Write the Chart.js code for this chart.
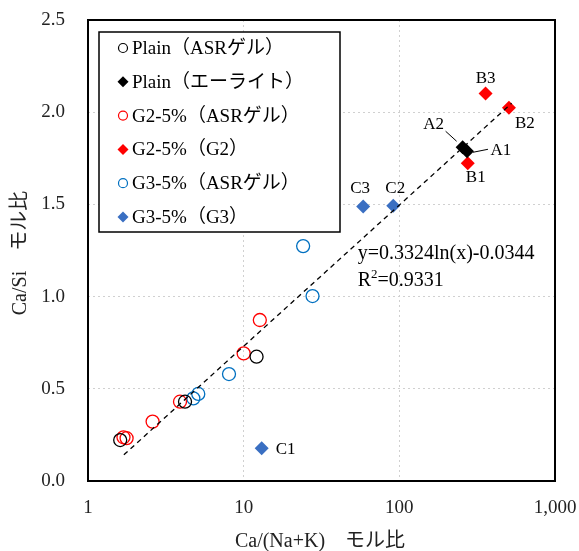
<!DOCTYPE html>
<html>
<head>
<meta charset="utf-8">
<script src="https://cdn.jsdelivr.net/npm/chart.js@4"></script>
<style>
  body { margin: 0; background: #fff; }
</style>
</head>
<body>
<canvas id="chart" width="579" height="551"></canvas>
<script>
// データ
const plainGelX = [1.61, 4.2, 12.1];
const plainGelY = [0.222, 0.43, 0.674];
const plainAliteX = [272, 255];
const plainAliteY = [1.788, 1.81];
const plainAliteNames = ['A1', 'A2'];
const g2GelX = [1.69, 1.77, 2.6, 3.9, 10.0, 12.7];
const g2GelY = [0.237, 0.232, 0.322, 0.43, 0.692, 0.873];
const g2X = [275, 506, 358];
const g2Y = [1.723, 2.024, 2.102];
const g2Names = ['B1', 'B2', 'B3'];
const g3GelX = [4.75, 5.11, 8.05, 27.7, 24.1];
const g3GelY = [0.448, 0.472, 0.58, 1.003, 1.274];
const g3X = [13.05, 91.4, 58.6];
const g3Y = [0.177, 1.493, 1.488];
const g3Names = ['C1', 'C2', 'C3'];

const legendNames = [
    'Plain（ASRゲル）', 'Plain（エーライト）', 'G2-5%（ASRゲル）',
    'G2-5%（G2）', 'G3-5%（ASRゲル）', 'G3-5%（G3）'
];
const xTicks = [1, 10, 100, 1000];
const yTicks = [0, 0.5, 1.0, 1.5, 2.0, 2.5];

// 近似曲線 y = a ln(x) + b
const trendA = 0.3324;
const trendB = -0.0344;
const trendR2 = '0.9331';
const trendRange = [1.7, 526];

const FONT = "'Liberation Serif', 'Noto Sans CJK JP', serif";
const RED = '#FF0000';
const BLUE = '#0070C0';
const BLUE_D = '#3A6FC2';

function pts(xs, ys, names) {
    return xs.map((x, i) => ({ x: x, y: ys[i], name: names ? names[i] : null }));
}

const trendPts = trendRange.map(x => ({ x: x, y: trendA * Math.log(x) + trendB }));

const series = [
    { label: legendNames[0], data: pts(plainGelX, plainGelY), style: 'circle', color: '#000' },
    { label: legendNames[1], data: pts(plainAliteX, plainAliteY, plainAliteNames), style: 'rectRot', color: '#000' },
    { label: legendNames[2], data: pts(g2GelX, g2GelY), style: 'circle', color: RED },
    { label: legendNames[3], data: pts(g2X, g2Y, g2Names), style: 'rectRot', color: RED },
    { label: legendNames[4], data: pts(g3GelX, g3GelY), style: 'circle', color: BLUE },
    { label: legendNames[5], data: pts(g3X, g3Y, g3Names), style: 'rectRot', color: BLUE_D }
];

const datasets = series.map(s => ({
    label: s.label,
    data: s.data,
    pointStyle: s.style,
    pointRadius: s.style === 'circle' ? 6.5 : 7,
    pointBorderWidth: s.style === 'circle' ? 1.3 : 0,
    pointBorderColor: s.color,
    pointBackgroundColor: s.style === 'circle' ? 'rgba(0,0,0,0)' : s.color,
    showLine: false,
    order: 1
}));

datasets.push({
    label: 'trend',
    data: trendPts,
    showLine: true,
    borderColor: '#000',
    borderWidth: 1.3,
    borderDash: [5, 4],
    pointRadius: 0,
    order: 0
});

// ラベル位置（点からのずれ）
const labelOffsets = {
    A1: [34, -1], A2: [-29, -23], B1: [8, 14], B2: [16, 16], B3: [0, -15],
    C1: [24, 1], C2: [2, -17], C3: [-3, -18]
};
const leaders = {
    A1: [[21, -2], [6, 1]],
    A2: [[-17, -16], [-6, -6]]
};

const extrasPlugin = {
    id: 'extras',
    afterDatasetsDraw(chart) {
        const ctx = chart.ctx;
        const xs = chart.scales.x, ys = chart.scales.y;
        const area = chart.chartArea;
        ctx.save();

        // 枠線
        ctx.strokeStyle = '#000';
        ctx.lineWidth = 2;
        ctx.strokeRect(area.left, area.top, area.right - area.left, area.bottom - area.top);

        // 点ラベル
        ctx.fillStyle = '#000';
        ctx.font = '17px ' + FONT;
        ctx.textAlign = 'center';
        ctx.textBaseline = 'middle';
        series.forEach(s => {
            s.data.forEach(p => {
                if (!p.name) return;
                const px = xs.getPixelForValue(p.x);
                const py = ys.getPixelForValue(p.y);
                const off = labelOffsets[p.name];
                ctx.fillText(p.name, px + off[0], py + off[1]);
                if (leaders[p.name]) {
                    const l = leaders[p.name];
                    ctx.lineWidth = 1;
                    ctx.beginPath();
                    ctx.moveTo(px + l[0][0], py + l[0][1]);
                    ctx.lineTo(px + l[1][0], py + l[1][1]);
                    ctx.stroke();
                }
            });
        });

        // 近似式
        ctx.textAlign = 'left';
        ctx.font = '20px ' + FONT;
        const ex = xs.getPixelForValue(54);
        const ey = ys.getPixelForValue(1.235);
        ctx.fillText('y=' + trendA + 'ln(x)' + trendB, ex, ey);
        ctx.fillText('R', ex, ey + 27);
        const rw = ctx.measureText('R').width;
        ctx.font = '13px ' + FONT;
        ctx.fillText('2', ex + rw, ey + 21);
        const sw = ctx.measureText('2').width;
        ctx.font = '20px ' + FONT;
        ctx.fillText('=' + trendR2, ex + rw + sw, ey + 27);

        // 凡例
        const lx = 99, ly = 32, lw = 241, lh = 200;
        ctx.fillStyle = '#fff';
        ctx.fillRect(lx, ly, lw, lh);
        ctx.strokeStyle = '#000';
        ctx.lineWidth = 1.5;
        ctx.strokeRect(lx, ly, lw, lh);
        ctx.font = '19px ' + FONT;
        ctx.textBaseline = 'middle';
        series.forEach((s, i) => {
            const ry = 48 + i * 33.8;
            ctx.beginPath();
            if (s.style === 'circle') {
                ctx.arc(123, ry, 4.5, 0, Math.PI * 2);
                ctx.strokeStyle = s.color;
                ctx.lineWidth = 1.2;
                ctx.stroke();
            } else {
                ctx.moveTo(123, ry - 5.5);
                ctx.lineTo(128.5, ry);
                ctx.lineTo(123, ry + 5.5);
                ctx.lineTo(117.5, ry);
                ctx.closePath();
                ctx.fillStyle = s.color;
                ctx.fill();
            }
            ctx.fillStyle = '#000';
            ctx.fillText(s.label, 132, ry + 1);
        });

        // 軸タイトル
        ctx.fillStyle = '#222';
        ctx.textAlign = 'center';
        ctx.font = '20px ' + FONT;
        ctx.fillText('Ca/(Na+K)　モル比', 320, 542);
        ctx.translate(21, 253);
        ctx.rotate(-Math.PI / 2);
        ctx.fillText('Ca/Si　モル比', 0, 0);

        ctx.restore();
    }
};

function noPad(scale) {
    scale.paddingLeft = 0;
    scale.paddingRight = 0;
    scale.paddingTop = 0;
    scale.paddingBottom = 0;
}

new Chart(document.getElementById('chart').getContext('2d'), {
    type: 'scatter',
    data: { datasets: datasets },
    options: {
        responsive: false,
        animation: false,
        devicePixelRatio: 1,
        layout: { padding: { top: 20, right: 24, left: 0, bottom: 0 } },
        plugins: {
            legend: { display: false },
            tooltip: { enabled: false }
        },
        scales: {
            x: {
                type: 'logarithmic',
                min: 1,
                max: 1000,
                afterBuildTicks: scale => { scale.ticks = xTicks.map(v => ({ value: v })); },
                afterFit: scale => { scale.height = 70; noPad(scale); },
                ticks: {
                    padding: 16,
                    color: '#222',
                    font: { family: FONT, size: 19 },
                    maxRotation: 0,
                    callback: v => Number(v).toLocaleString('en-US')
                },
                grid: { color: '#D0D0D0', lineWidth: 1, drawTicks: false },
                border: { display: false, dash: [2, 3] }
            },
            y: {
                min: 0,
                max: 2.5,
                afterBuildTicks: scale => { scale.ticks = yTicks.map(v => ({ value: v })); },
                afterFit: scale => { scale.width = 88; noPad(scale); },
                ticks: {
                    padding: 23,
                    color: '#222',
                    font: { family: FONT, size: 19 },
                    callback: v => Number(v).toFixed(1)
                },
                grid: { color: '#D0D0D0', lineWidth: 1, drawTicks: false },
                border: { display: false, dash: [2, 3] }
            }
        }
    },
    plugins: [extrasPlugin]
});
</script>
</body>
</html>
